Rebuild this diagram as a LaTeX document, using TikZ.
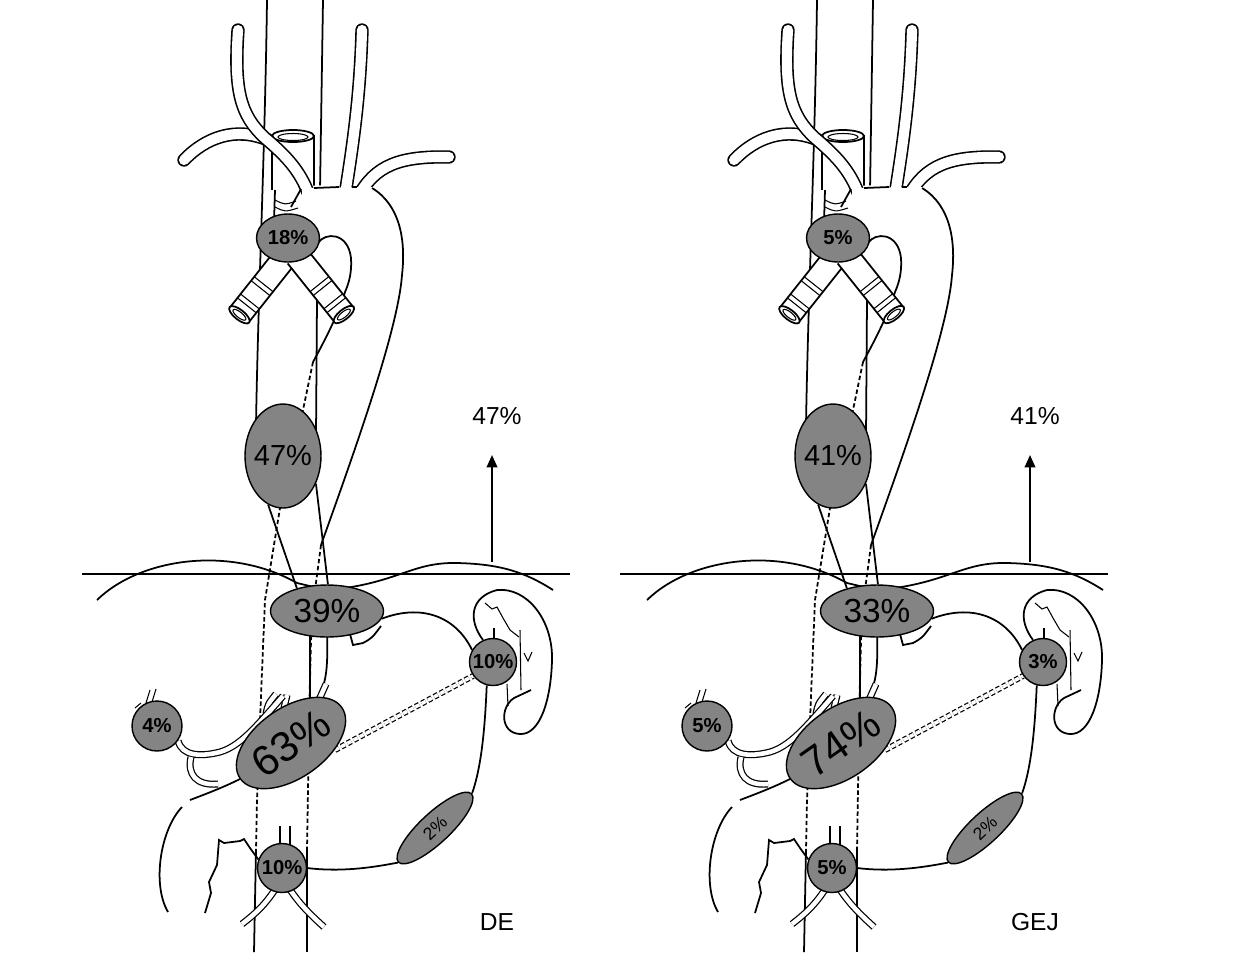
\documentclass[tikz,border=0pt]{standalone}
\usepackage{fontspec}
\setmainfont{Liberation Sans}
\usetikzlibrary{shapes.geometric,arrows.meta,backgrounds}
\definecolor{nodegray}{RGB}{132,132,132}
\tikzset{
  organ/.style={line width=1pt},
  fine/.style={line width=0.6pt},
  hidden/.style={line width=1pt, dash pattern=on 2.5pt off 1.5pt},
  vessel/.style={line width=0.9pt, double=white, double distance=5.8pt, line cap=round},
  smalltube/.style={line width=0.7pt, double=white, double distance=2.6pt},
  lymph/.style={draw, fill=nodegray, line width=0.8pt, inner sep=0pt},
  oval/.style={lymph, ellipse},
  dot/.style={lymph, circle},
  pctbig/.style={font=\fontsize{19}{19}\selectfont},
  pctsmall/.style={font=\fontsize{11.5}{11.5}\selectfont\bfseries},
  caption/.style={font=\fontsize{14}{14}\selectfont}
}
\begin{document}
\begin{tikzpicture}[x=0.02cm, y=-0.02cm]
\useasboundingbox (0,0) rectangle (1246,968);
\foreach \sx/\lx/\p/\tUp/\tTh/\tCa/\tSp/\tHe/\tCe/\tGe/\tPy/\tMid/\tTag in
  {0/0/a/18/47/39/10/4/63/2/10/47/DE, 550/538/b/5/41/33/3/5/74/2/5/41/GEJ}{
  \begin{scope}[xshift=\sx*0.02cm]
    % lymph node stations
    \node[oval, minimum width=1.26cm, minimum height=0.96cm, pctsmall] (upper\p) at (288,238) {\tUp\%};
    \node[oval, minimum width=1.52cm, minimum height=2.08cm, inner xsep=-2pt, font=\fontsize{16.5}{16.5}\selectfont] (thor\p) at (283,456) {\tTh\%};
    \node[oval, minimum width=2.26cm, minimum height=1.04cm, pctbig] (card\p) at (327,611) {\tCa\%};
    \node[dot, minimum size=0.94cm, pctsmall] (splh\p) at (493,662) {\tSp\%};
    \node[dot, minimum size=1.0cm, pctsmall] (hep\p) at (157,726) {\tHe\%};
    \node[oval, rotate=35, minimum width=2.48cm, minimum height=1.4cm, font=\fontsize{24}{24}\selectfont] (celi\p) at (291,743) {\tCe\%};
    \node[oval, rotate=43, minimum width=2.0cm, minimum height=0.6cm, font=\fontsize{10}{10}\selectfont] (gep\p) at (435,828) {\tGe\%};
    \node[dot, minimum size=0.98cm, pctsmall] (pyl\p) at (282,868) {\tPy\%};

    \begin{pgfonlayer}{background}
      % diaphragm
      \draw[organ] (97,600) .. controls (140,558) and (230,545) .. (297,583) -- (335,592);
      \draw[organ] (345,588) .. controls (400,580) and (415,562) .. (457,563) .. controls (500,564) and (525,572) .. (553,590);
      % oesophagus
      \draw[organ] (267,0) .. controls (265,150) and (258,300) .. (256,425);
      \draw[organ] (323,0) -- (320,190);
      \draw[organ] (317,300) -- (316,435);
      \draw[organ] (thor\p.253) -- (card\p.143);
      \draw[organ] (thor\p.320) -- (card\p.88);
      \draw[organ] (310,630) -- (310,705);
      \draw[organ] (327,630) .. controls (328,665) and (327,682) .. (318,698);
      % aorta behind
      \draw[hidden] (313,362) -- (303,410) -- (280,508) -- (265,600) -- (260,720) -- (257,800) -- (256,850);
      \draw[organ] (256,850) -- (254,952);
      \draw[hidden] (321,545) -- (315,590) -- (311,640) -- (309,720) -- (308,790) -- (307,850);
      \draw[organ] (307,850) -- (307,952);
      % trachea
      \draw[organ, fill=white] (272,190) -- (272,136) -- (314,136) -- (314,190);
      \draw[organ, fill=white] (293,136) ellipse [x radius=21, y radius=6];
      \draw[fine] (293,137) ellipse [x radius=15, y radius=3.5];
      \fill[white] (300,186) -- (366,184) .. controls (398,200) and (405,240) .. (402,275) -- (348,290) -- (330,240) -- (300,205) -- cycle;
      % arch branches
      \draw[vessel] (184,160) .. controls (205,138) and (235,126) .. (268,140);
      \draw[vessel] (238,30) .. controls (234,90) and (240,115) .. (265,138) .. controls (285,155) and (300,170) .. (309,195);
      \draw[vessel] (362,30) .. controls (360,100) and (352,150) .. (345,195);
      \draw[vessel] (358,197) .. controls (375,165) and (400,156) .. (449,157);
      \fill[white] (302,188) -- (374,187) -- (380,212) -- (302,212) -- cycle;
      \draw[organ] (314,188) -- (339,187);
      \draw[organ] (352,187) -- (357,187);
      \draw[organ] (372,188) .. controls (400,205) and (406,240) .. (402,275) .. controls (398,330) and (355,450) .. (321,545);
      \draw[organ] (301,189) -- (291,207);
      \draw[organ] (275,190) -- (274,222);
      \draw[fine] (275,200) .. controls (285,205) .. (296,201);
      \draw[fine] (275,207) .. controls (285,212) .. (298,208);
      \fill[white] (318,243) .. controls (325,232) and (348,232) .. (351,258) .. controls (352,272) and (349,283) .. (345,292) -- (325,292) -- cycle;
      \draw[organ] (318,243) .. controls (325,232) and (348,232) .. (351,258) .. controls (352,272) and (349,283) .. (345,292) .. controls (338,315) and (325,340) .. (313,362);
      % bronchi
      \foreach \bx/\by/\ba in {286/256/231.6, 297/256/-51.3}{
        \begin{scope}[shift={(\bx,\by)}, rotate=\ba]
          \fill[white] (0,-12) rectangle (75,12);
          \draw[organ] (0,-12) -- (75,-12) (0,12) -- (75,12);
          \foreach \r in {36,41,58,63}
            \draw[fine] (\r,-12) -- (\r,12);
          \draw[organ, fill=white] (75,0) ellipse [x radius=5, y radius=12.5];
          \draw[fine] (75,0) ellipse [x radius=2.8, y radius=8];
        \end{scope}
      }
      % stomach
      \draw[organ] (card\p.-8) .. controls (420,604) and (455,615) .. (splh\p.150);
      \draw[organ] (350,634) -- (353,645) -- (363,643) .. controls (372,638) .. (381,626);
      \draw[organ] (splh\p.255) .. controls (485,725) and (482,765) .. (gep\p.east);
      \draw[organ] (gep\p.west) .. controls (370,868) and (340,872) .. (pyl\p.east);
      \draw[hidden, line width=0.7pt, double=white, double distance=2pt] (335,750) -- (splh\p.215);
      % spleen
      \draw[organ] (483,640) .. controls (468,620) and (470,597) .. (497,590) .. controls (527,587) and (553,620) .. (552,660) .. controls (551,700) and (540,735) .. (520,734) .. controls (500,733) and (500,707) .. (514,698) -- (531,690);
      \draw[fine] (485,603) -- (492,609) -- (497,607) -- (503,618) -- (510,630) -- (519,637);
      \draw[fine] (520,630) -- (521,690);
      \draw[fine] (494,628) -- (494,640);
      \draw[fine] (524,653) -- (528,661) -- (532,652);
      \draw[fine] (507,684) -- (508,706);
      % small arteries
      \draw[smalltube] (266,714) .. controls (268,704) .. (276,694);
      \draw[smalltube] (284,708) -- (287,695);
      \draw[smalltube] (318,702) -- (326,684);
      \draw[smalltube] (hep\p.-35) .. controls (182,756) and (200,757) .. (220,752) .. controls (240,746) and (255,728) .. (283,696);
      \draw[smalltube] (191,757) .. controls (187,774) and (196,786) .. (218,784);
      \draw[fine] (146,703) -- (150,690) (152,702) -- (156,689) (135,708) -- (141,703);
      % liver and duodenum
      \draw[organ] (240,779) .. controls (222,788) and (203,795) .. (190,800);
      \draw[organ] (182,807) .. controls (160,830) and (152,885) .. (168,912);
      \draw[organ] (205,913) -- (211,893) -- (209,882) -- (217,865) -- (219,840) -- (224,843) -- (240,841) -- (244,839) -- (250,848) -- (pyl\p.160);
      \draw[organ] (280,826) -- (280,845) (290,826) -- (290,845);
      \draw[smalltube] (276,888) .. controls (265,905) and (255,914) .. (242,924);
      \draw[smalltube] (289,888) .. controls (300,905) and (312,916) .. (324,927);
    \end{pgfonlayer}
  \end{scope}

  \begin{scope}[xshift=\lx*0.02cm]
    \draw[line width=1.6pt] (82,574) -- (570,574);
    \coordinate (abase\p) at (492,562);
    \coordinate (atip\p) at (492,455);
    \draw[line width=1.1pt, -{Triangle[length=7pt,width=6pt]}] (abase\p) -- (atip\p);
    \node[caption] (mid\p) at (497,416) {\tMid\%};
    \node[caption] (tag\p) at (497,922) {\tTag};
  \end{scope}
}
\end{tikzpicture}
\end{document}
